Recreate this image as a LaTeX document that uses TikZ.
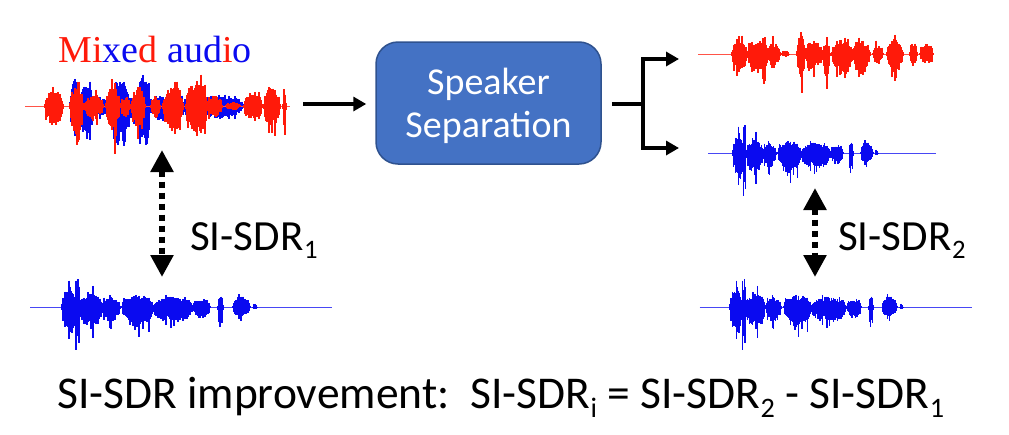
\documentclass[tikz,border=0pt]{standalone}
\usepackage{fontspec}
\setmainfont{Carlito}
\newfontfamily\tnr{Liberation Serif}
\usetikzlibrary{arrows.meta}
\definecolor{wred}{HTML}{FF1A0A}
\definecolor{wblue}{HTML}{0A0AF0}
\definecolor{boxfill}{HTML}{4472C4}
\definecolor{boxline}{HTML}{2F528F}
\newcommand\lowsub[1]{\kern0.5pt\raisebox{-0.2em}{\fontsize{0.62em}{0.62em}\selectfont #1}}
\newcommand\wavedraw[7]{%
 \begin{scope}[shift={(#1,#2)},#3]
  \pgfmathsetseed{#4}%
  \draw[#5!75!white,line width=0.9pt] #6;
  \foreach \ws/\we/\wup/\wdn in #7{%
    \foreach \xx in {\ws,...,\we}{%
      \pgfmathsetmacro\wt{(\xx-\ws)/(\we-\ws)}%
      \pgfmathsetmacro\wen{0.15+0.85*sqrt(abs(sin(180*\wt)))}%
      \pgfmathsetmacro\wsp{1+0.45*(rnd>0.87)}%
      \pgfmathsetmacro\whu{\wup*\wen*\wsp*(0.55+0.45*rnd)}%
      \pgfmathsetmacro\whd{\wdn*\wen*\wsp*(0.55+0.45*rnd)}%
      \draw[#5,line width=1.3pt] (\xx,-\whu) -- (\xx,\whd);
    }}
 \end{scope}}
\def\cleanbursts{0/14/20/28, 13/18/27/43, 18/40/15/22, 40/58/10/15, 60/63/10/10, 63/91/12/23, 91/131/10/16, 131/148/9/11, 156/161/12/20, 171/188/10/10, 191/195/3/3}
\def\mixblue{70/80/28/30, 76/79/30/36, 80/93/22/35, 93/108/8/10, 110/130/27/42, 130/137/10/12, 137/150/32/45, 150/153/8/8, 153/167/12/16, 167/200/7/9, 200/243/11/13}
\def\mixred{45/63/15/19, 70/83/20/28, 77/80/25/47, 84/103/10/12, 95/98/18/20, 106/120/18/22, 114/117/22/35, 121/130/9/11, 131/145/16/22, 151/160/10/12, 163/183/20/25, 186/207/24/30, 207/222/10/12, 226/240/4/4, 244/262/14/16, 264/280/18/22, 283/286/20/30}
\def\sepred{732/747/13/17, 748/768/15/18, 762/766/19/33, 768/780/12/15, 781/789/3/3, 797/805/20/25, 800/803/27/40, 805/823/12/15, 823/830/13/25, 832/853/14/20, 853/870/13/20, 873/883/10/10, 887/903/13/18, 910/917/13/13, 920/933/10/10}
\tikzset{
  lbl/.style={font=\fontsize{43}{43}\selectfont, text=black, inner sep=0pt},
  conn/.style={line width=3.5pt, -{Triangle[width=14pt,length=13pt]}},
  dbl/.style={line width=6pt, dash pattern=on 6pt off 5pt, {Triangle[width=22pt,length=22pt]}-{Triangle[width=22pt,length=22pt]}},
  sepbox/.style={draw=boxline, line width=1.5pt, fill=boxfill, rounded corners=22pt, minimum width=225pt, minimum height=122pt}
}
\begin{document}
\begin{tikzpicture}[x=1pt,y=-1pt]
\useasboundingbox (0,0) rectangle (1009,434);
% waveforms
\wavedraw{0}{106}{yscale=1.05}{11}{wblue}{(25,0) -- (290,0)}{\mixblue}
\wavedraw{0}{106}{yscale=1.05}{12}{wred}{(25,0) -- (290,0)}{\mixred}
\wavedraw{0}{54}{yscale=1.05}{13}{wred}{(698,0) -- (933,0)}{\sepred}
\wavedraw{733}{153}{xscale=0.745,yscale=1.05}{5}{wblue}{(-33,0) -- (272,0)}{\cleanbursts}
\wavedraw{62}{307}{yscale=1.05}{5}{wblue}{(-32,0) -- (270,0)}{\cleanbursts}
\wavedraw{730}{307}{xscale=0.89,yscale=1.05}{5}{wblue}{(-34,0) -- (272,0)}{\cleanbursts}
% label
\node[font=\tnr\fontsize{38}{38}\selectfont, anchor=base, inner sep=0pt] (mixlbl) at (155,62)
  {\textcolor{wred}{Mi}\textcolor{wblue}{xe}\textcolor{wred}{d} \textcolor{wblue}{aud}\textcolor{wred}{i}\textcolor{wblue}{o}};
% box
\node[sepbox] (sep) at (488.5,103) {};
\node[font=\fontsize{38}{43}\selectfont, text=white, align=center] (septxt) at (488.5,106) {Speaker\\Separation};
% connectors
\coordinate (mixout) at (303,104);
\coordinate (fork) at (643,104);
\coordinate (outA) at (679,59);
\coordinate (outB) at (679,148);
\draw[conn, shorten >=9pt] (mixout) -- (sep.west |- mixout);
\draw[line width=3.5pt] ([xshift=10pt]sep.east |- fork) -- (fork);
\draw[conn, line join=miter] (fork) |- (outA);
\draw[conn, line join=miter] (fork) |- (outB);
% SI-SDR arrows
\coordinate (d1a) at (162,150);
\coordinate (d1b) at (162,277);
\coordinate (d2a) at (815,188);
\coordinate (d2b) at (815,277);
\draw[dbl] (d1a) -- (d1b);
\draw[dbl] (d2a) -- (d2b);
\node[lbl, anchor=base west] (s1) at (190,250) {SI-SDR\lowsub{1}};
\node[lbl, anchor=base west] (s2) at (838,250) {SI-SDR\lowsub{2}};
\node[lbl, font=\fontsize{45.5}{46}\selectfont, anchor=base west] (imp) at (57,408) {SI-SDR improvement:\ \ SI-SDR\lowsub{i} = SI-SDR\lowsub{2} - SI-SDR\lowsub{1}};
\end{tikzpicture}
\end{document}
